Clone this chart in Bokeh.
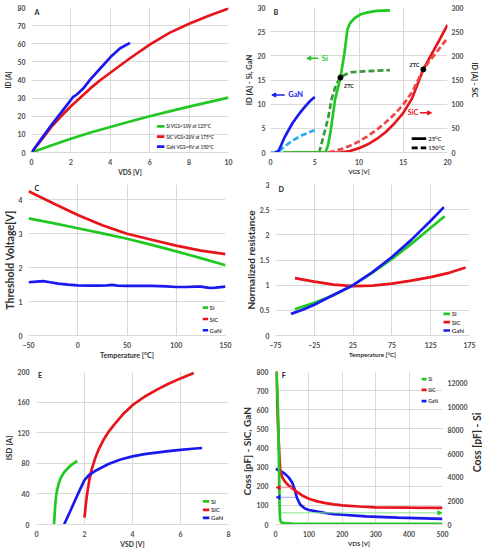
import math
from bokeh.plotting import figure
from bokeh.models import (Range1d, LinearAxis, FixedTicker, Label, Arrow, NormalHead,
                          NumeralTickFormatter)
from bokeh.layouts import column, row
from bokeh.embed import file_html
from bokeh.resources import INLINE

FONT = "Lato"
GREEN = "#22C822"
DGREEN = "#3A9A3A"
RED = "#E8141B"
LRED = "#F04545"
BLUE = "#1A1AF0"
LBLUE = "#22AEEE"
GRID = "#D9D9D9"
TICK = "#4A4A4A"
TITLE = "#303030"

# ---------------- Panel A : output characteristics
a_si_v = [0, 1, 2, 3, 4, 5, 6, 7, 8, 9, 10]
a_si_i = [0, 3.9, 7.6, 11.0, 14.1, 17.1, 20.0, 22.7, 25.3, 27.8, 30.3]
a_sic_v = [0, 0.5, 1, 1.5, 2, 2.5, 3, 3.5, 4, 5, 6, 7, 8, 9, 10]
a_sic_i = [0, 7, 14, 20, 25.5, 30.5, 35.5, 40, 44, 52, 59.5, 66, 71, 75.5, 79.5]
a_gan_v = [0, 0.5, 1, 1.5, 2, 2.1, 2.3, 2.6, 3, 3.5, 4, 4.5, 5]
a_gan_i = [0, 7.5, 15, 22, 29, 30.5, 32, 35, 40.5, 46.5, 52.5, 57.5, 60.5]
a_labels = ["Si VGS=10V at 125°C", "SiC VGS=20V at 175°C", "GaN VGS=4V at 150°C"]

# ---------------- Panel B : transfer characteristics
b_si25_v = [1.4, 6.2, 6.5, 6.8, 7.3, 7.9, 8.35, 8.7, 9.0, 9.5, 10.2, 11, 12, 13.5]
b_si25_i = [0, 0, 1.5, 4.5, 11, 15.5, 20.5, 25.5, 26.8, 27.8, 28.6, 29.0, 29.3, 29.4]
b_si150_v = [1.4, 5.5, 6.0, 6.5, 6.9, 7.4, 7.9, 8.4, 9.1, 10.5, 13.5]
b_si150_i = [0, 0, 3.5, 7, 11, 14, 15.5, 16.1, 16.6, 16.8, 17.05]
b_gan25_v = [0.5, 0.9, 1.2, 1.5, 2, 2.5, 3, 3.5, 4, 4.5, 5]
b_gan25_i = [0, 0.3, 1.5, 2.8, 4.5, 6.1, 7.4, 8.6, 9.7, 10.7, 11.5]
b_gan150_v = [0, 0.8, 1.2, 1.5, 2, 2.5, 3, 3.5, 4, 4.5, 5]
b_gan150_i = [0, 0, 0.6, 1.1, 1.8, 2.5, 3.0, 3.5, 3.9, 4.3, 4.6]
b_sic25_v = [1.5, 7, 8, 9, 10, 11, 12, 13, 14, 15, 16, 17.27, 18, 19, 20]
b_sic25_i = [0, 0, 0.5, 3, 9, 17, 28, 42, 60, 82, 112, 172, 197, 230, 264]
b_sic150_v = [1.5, 6.3, 7, 8, 9, 10, 11, 12, 13, 14, 15, 16, 17.27, 18, 19, 20]
b_sic150_i = [0, 0, 2, 7, 14, 23, 34, 47, 62, 79, 99, 125, 172, 190, 213, 237]
b_ztc_si = ([7.9], [15.5])
b_ztc_sic = ([17.27], [172])
b_labels = ["25°C", "150°C"]

# ---------------- Panel C : threshold voltage vs temperature
c_t = [-50, -25, 0, 25, 50, 75, 100, 125, 150]
c_si = [3.45, 3.31, 3.16, 3.01, 2.85, 2.67, 2.48, 2.28, 2.07]
c_sic = [4.25, 3.9, 3.55, 3.25, 3.0, 2.82, 2.65, 2.5, 2.4]
c_gan_t = [-50, -42, -35, -28, -20, -10, 0, 10, 20, 30, 35, 40, 50, 60, 75, 90,
           100, 110, 120, 125, 130, 135, 140, 150]
c_gan = [1.57, 1.59, 1.60, 1.57, 1.53, 1.50, 1.48, 1.47, 1.47, 1.48, 1.49, 1.47,
         1.46, 1.46, 1.46, 1.45, 1.43, 1.43, 1.44, 1.44, 1.42, 1.40, 1.41, 1.44]

# ---------------- Panel D : normalized on-resistance
d_si_t = [-50, -25, 0, 25, 50, 75, 100, 125, 143]
d_si = [0.52, 0.65, 0.8, 1.0, 1.25, 1.52, 1.82, 2.14, 2.37]
d_sic_t = [-50, -25, 0, 25, 50, 75, 100, 125, 150, 170]
d_sic = [1.14, 1.07, 1.01, 0.98, 0.99, 1.03, 1.09, 1.16, 1.25, 1.35]
d_gan_t = [-55, -40, -25, -10, 0, 25, 50, 75, 100, 125, 142]
d_gan = [0.43, 0.51, 0.61, 0.73, 0.81, 1.0, 1.26, 1.56, 1.9, 2.28, 2.55]

# ---------------- Panel E : reverse conduction
e_si_v = [0.73, 0.75, 0.78, 0.82, 0.86, 0.92, 1.0, 1.1, 1.2, 1.35, 1.5, 1.7]
e_si_i = [0, 10, 25, 38, 45, 53, 60, 66, 70, 75, 79, 83]
e_sic_v = [2.0, 2.05, 2.1, 2.2, 2.3, 2.45, 2.6, 2.8, 3.0, 3.3, 3.6, 4.0, 4.5, 5.0, 5.5, 6.0, 6.55]
e_sic_i = [9, 25, 38, 58, 72, 87, 99, 111, 121, 133, 144, 156, 167, 176, 184, 191, 198]
e_gan_v = [1.15, 1.4, 1.6, 1.8, 2.0, 2.2, 2.5, 3.0, 3.5, 4.0, 4.5, 5.0, 5.5, 6.0, 6.5, 6.9]
e_gan_i = [0, 17, 31, 45, 58, 65, 71, 79, 85, 89, 92, 94, 96, 97.5, 99, 100]

# ---------------- Panel F : output capacitance
f_sic_v = [2, 4, 6, 8, 10, 12, 14, 17, 20, 26, 33, 40, 50, 60, 80, 100, 125, 150, 175, 200, 250, 300, 400, 500]
f_sic_c = [850, 720, 600, 500, 420, 345, 292, 265, 248, 230, 215, 203, 190, 176, 152, 135, 121, 112, 105, 100, 94, 90, 88, 87]
f_gan_v = [0, 10, 21, 30, 40, 50, 57, 64, 74, 88, 100, 126, 150, 174, 200, 270, 366, 500]
f_gan_c = [290, 284, 274, 262, 245, 220, 186, 140, 104, 84, 76, 67, 60, 54, 51, 42, 36, 29]
f_si_v = [3, 6, 8, 9.5, 10.5, 11.2, 11.8, 12.5, 13.5, 15, 18, 25, 50, 100, 200, 500]
f_si_c = [13000, 11000, 9000, 7000, 5000, 3500, 2200, 1200, 600, 300, 170, 110, 80, 65, 58, 52]

mat_labels = ["Si", "SiC", "GaN"]

W = 241
TFS = "6.9px"


def I(v):
    return int(round(v))


def style_axis(ax, title, tfs, ls, als, line=None):
    ax.axis_label = title if title else None
    ax.axis_label_text_font = FONT
    ax.axis_label_text_font_style = "bold"
    ax.axis_label_text_font_size = f"{tfs}px"
    ax.axis_label_text_color = TITLE
    ax.axis_label_standoff = I(als)
    ax.major_label_text_font = FONT
    ax.major_label_text_font_style = "bold"
    ax.major_label_text_font_size = TFS
    ax.major_label_text_color = TICK
    ax.major_label_standoff = I(ls)
    ax.major_tick_line_color = None
    ax.minor_tick_line_color = None
    ax.major_tick_out = 0
    ax.major_tick_in = 0
    ax.minor_tick_out = 0
    ax.minor_tick_in = 0
    ax.axis_line_color = line


class Panel:
    def __init__(self, h, xr, yr, xt, yt, mb, xtitle, xfs, ytitle, yfs, ys, yls, xs=6, xls=0):
        p = figure(width=W, height=h, x_range=Range1d(*xr), y_range=Range1d(*yr),
                   output_backend="svg", toolbar_location=None,
                   min_border_left=mb[0], min_border_right=mb[1],
                   min_border_top=mb[2], min_border_bottom=mb[3])
        p.outline_line_color = None
        p.background_fill_color = "white"
        p.border_fill_color = "white"
        p.xaxis.ticker = FixedTicker(ticks=xt)
        p.yaxis.ticker = FixedTicker(ticks=yt)
        p.xgrid.grid_line_color = GRID
        p.ygrid.grid_line_color = GRID
        style_axis(p.xaxis[0], xtitle, xfs, xs, xls, GRID)
        style_axis(p.yaxis[0], ytitle, yfs, ys, yls, None)
        self.p = p
        self.xr, self.yr = xr, yr
        self.fw = W - mb[0] - mb[1]
        self.fh = h - mb[2] - mb[3]

    # frame pixel offsets (from frame left / from frame top) -> data
    def dx(self, px):
        return self.xr[0] + (self.xr[1] - self.xr[0]) * px / self.fw

    def dy(self, py):
        return self.yr[1] - (self.yr[1] - self.yr[0]) * py / self.fh

    def legend(self, labels, styles, px, py_rows, gw, standoff, fs):
        for lab, st, py in zip(labels, styles, py_rows):
            y = self.dy(py)
            self.p.line([self.dx(px), self.dx(px + gw)], [y, y], line_width=LW, **st)
            txt(self.p, self.dx(px + gw + standoff), y, lab, fs, TICK)

    def side_title(self, side, sx, sy0, text, size):
        # upward-reading title in its own side panel (sx from panel left, sy from frame bottom)
        self.p.add_layout(Label(x=sx, y=sy0, x_units="screen", y_units="screen",
                                text=text, angle=math.pi / 2, text_font=FONT,
                                text_font_style="bold", text_font_size=f"{size}px",
                                text_color=TITLE, text_align="left", text_baseline="middle"),
                          side)


def txt(p, x, y, t, size, color="#262626", align="left", rng="default"):
    p.add_layout(Label(x=x, y=y, text=t, text_font=FONT, text_font_style="bold",
                       text_font_size=f"{size}px", text_color=color, text_align=align,
                       text_baseline="middle", y_range_name=rng))


def arrow(p, x0, y0, x1, y1, color, lw, head_color=None, size=4, rng="default"):
    hc = head_color or color
    p.add_layout(Arrow(end=NormalHead(size=size, fill_color=hc, line_color=hc, line_width=1),
                       x_start=x0, y_start=y0, x_end=x1, y_end=y1, line_color=color,
                       line_width=lw, y_range_name=rng))


LW = 2.7
ST3 = [dict(color=GREEN), dict(color=RED), dict(color=BLUE)]

# ---- A
A = Panel(180, (0, 10), (0, 80), list(range(0, 11, 2)), list(range(0, 81, 10)),
          (29, 13, 6, 28), "VDS [V]", 6.6, "ID [A]", 6.6, 6, 3)
pa = A.p
pa.line(a_si_v, a_si_i, color=GREEN, line_width=LW)
pa.line(a_sic_v, a_sic_i, color=RED, line_width=LW)
pa.line(a_gan_v, a_gan_i, color=BLUE, line_width=LW)
A.legend(a_labels, ST3, 126.7, [119.7, 130, 140], 7.6, 1.7, 4.7)
txt(pa, 0.15, 77.4, "A", 7.2)

# ---- B
B = Panel(180, (0, 20), (0, 30), [0, 5, 10, 15, 20], list(range(0, 31, 5)),
          (26, 32, 7, 27), "VGS [V]", 6.0, "ID [A] - Si, GaN", 7.5, 5, 1)
pb = B.p
pb.extra_y_ranges = {"sic": Range1d(0, 300)}
rax = LinearAxis(y_range_name="sic", ticker=FixedTicker(ticks=list(range(0, 301, 50))))
style_axis(rax, "ID [A] - SiC", 7.2, 4, 4, None)
pb.add_layout(rax, "right")
pb.line(b_sic25_v, b_sic25_i, y_range_name="sic", color=RED, line_width=LW)
pb.line(b_sic150_v, b_sic150_i, y_range_name="sic", color=LRED, line_width=LW, line_dash="6 3")
pb.line(b_si150_v, b_si150_i, color=DGREEN, line_width=LW, line_dash="6 3")
pb.line(b_si25_v, b_si25_i, color=GREEN, line_width=LW)
pb.line(b_gan150_v, b_gan150_i, color=LBLUE, line_width=LW, line_dash="6 3")
pb.line(b_gan25_v, b_gan25_i, color=BLUE, line_width=LW)
pb.scatter(*b_ztc_si, size=5, color="black")
pb.scatter(*b_ztc_sic, size=5, color="black", y_range_name="sic")
B.legend(b_labels, [dict(color="black"), dict(color="black", line_dash="6 3")],
         146, [132, 141.3], 15, 2, 6)
txt(pb, 0.33, 28.9, "B", 7.2)
arrow(pb, 5.4, 19.5, 4.1, 19.5, GREEN, 1.5)
txt(pb, 5.8, 19.5, "Si", 7.7, GREEN)
arrow(pb, 1.6, 11.9, 0.15, 11.9, BLUE, 1.5)
txt(pb, 2.0, 11.9, "GaN", 7.5, BLUE)
txt(pb, 15.5, 82, "SiC", 7.3, RED, rng="sic")
arrow(pb, 16.9, 82, 18.2, 82, RED, 1.5, rng="sic")
txt(pb, 8.3, 13.7, "ZTC", 5.4)
txt(pb, 15.7, 181, "ZTC", 5.4, rng="sic")

# ---- C
C = Panel(185, (-50, 150), (0, 4.45), [-50, 0, 50, 100, 150], [0, 1, 2, 3, 4],
          (23, 16, 3, 29), "Temperature [°C]", 7.1, "Threshold Voltage[V]", 10.6, 6, 0)
pc = C.p
pc.line(c_t, c_si, color=GREEN, line_width=LW)
pc.line(c_t, c_sic, color=RED, line_width=LW)
pc.line(c_gan_t, c_gan, color=BLUE, line_width=LW)
C.legend(mat_labels, ST3, 178.7, [124.7, 136.3, 147.7], 5.5, 1.5, 6)
txt(pc, -44, C.dy(4), "C", 7.2)

# ---- D
D = Panel(185, (-75, 175), (0, 3), [-75, -25, 25, 75, 125, 175], [0, 0.5, 1, 1.5, 2, 2.5, 3],
          (32, 13, 4, 30), "Temperature [°C]", 6.2, "Normalized resistance", 10.1, 6, 0)
pd_ = D.p
pd_.yaxis[0].formatter = NumeralTickFormatter(format="0.[0]")
pd_.line(d_sic_t, d_sic, color=RED, line_width=LW)
pd_.line(d_si_t, d_si, color=GREEN, line_width=LW)
pd_.line(d_gan_t, d_gan, color=BLUE, line_width=LW)
D.legend(mat_labels, ST3, 169.7, [129.3, 137.7, 146], 6.6, 1.7, 6.2)
txt(pd_, -71, 2.9, "D", 7.2)

# ---- E
E = Panel(185, (0, 8), (0, 200), [0, 2, 4, 6, 8], list(range(0, 201, 40)),
          (31, 13, 6, 25), "VSD [V]", 6.8, "ISD [A]", 7.9, 7, 1)
pe = E.p
pe.line(e_si_v, e_si_i, color=GREEN, line_width=LW)
pe.line(e_sic_v, e_sic_i, color=RED, line_width=LW)
pe.line(e_gan_v, e_gan_i, color=BLUE, line_width=LW)
E.legend(mat_labels, ST3, 170.7, [130.7, 139.3, 147.3], 6.6, 1.7, 6.2)
txt(pe, 0.06, E.dy(4), "E", 7.2)

# ---- F
F = Panel(185, (0, 500), (0, 800), list(range(0, 501, 100)), list(range(0, 801, 100)),
          (30, 37, 3, 26), "VDS [V]", 6.1, "", 8, 7, 0)
pf = F.p
pf.extra_y_ranges = {"si": Range1d(0, 13000)}
fax = LinearAxis(y_range_name="si", ticker=FixedTicker(ticks=list(range(0, 12001, 2000))))
style_axis(fax, "", 8, 5, 0, None)
pf.add_layout(fax, "right")
pf.line(f_gan_v, f_gan_c, color=BLUE, line_width=LW)
pf.line(f_sic_v, f_sic_c, color=RED, line_width=LW)
pf.line(f_si_v, f_si_c, color=GREEN, line_width=LW, y_range_name="si")
F.legend(mat_labels, ST3, 152.3, [7.7, 18.7, 30.3], 5, 1.8, 5)
txt(pf, 19, F.dy(4.5), "F", 7.2)
arrow(pf, 48, 193, 2, 193, "#FF9A9A", 1, RED, 4)
arrow(pf, 59, 142, 2, 142, "#A0A0FF", 1, BLUE, 4)
arrow(pf, 16, 990, 498, 990, "#88E888", 1, GREEN, 4, rng="si")
# axis titles of F, reading upward, in their own side panels
F.side_title("left", 5, 29, "Coss [pF] - SiC, GaN", 10)
F.side_title("right", 6, 52.3, "Coss [pF] - Si", 10.4)

layout = column(row(pa, pb), row(pc, pd_), row(pe, pf))
open("out.html", "w").write(file_html(layout, INLINE))
